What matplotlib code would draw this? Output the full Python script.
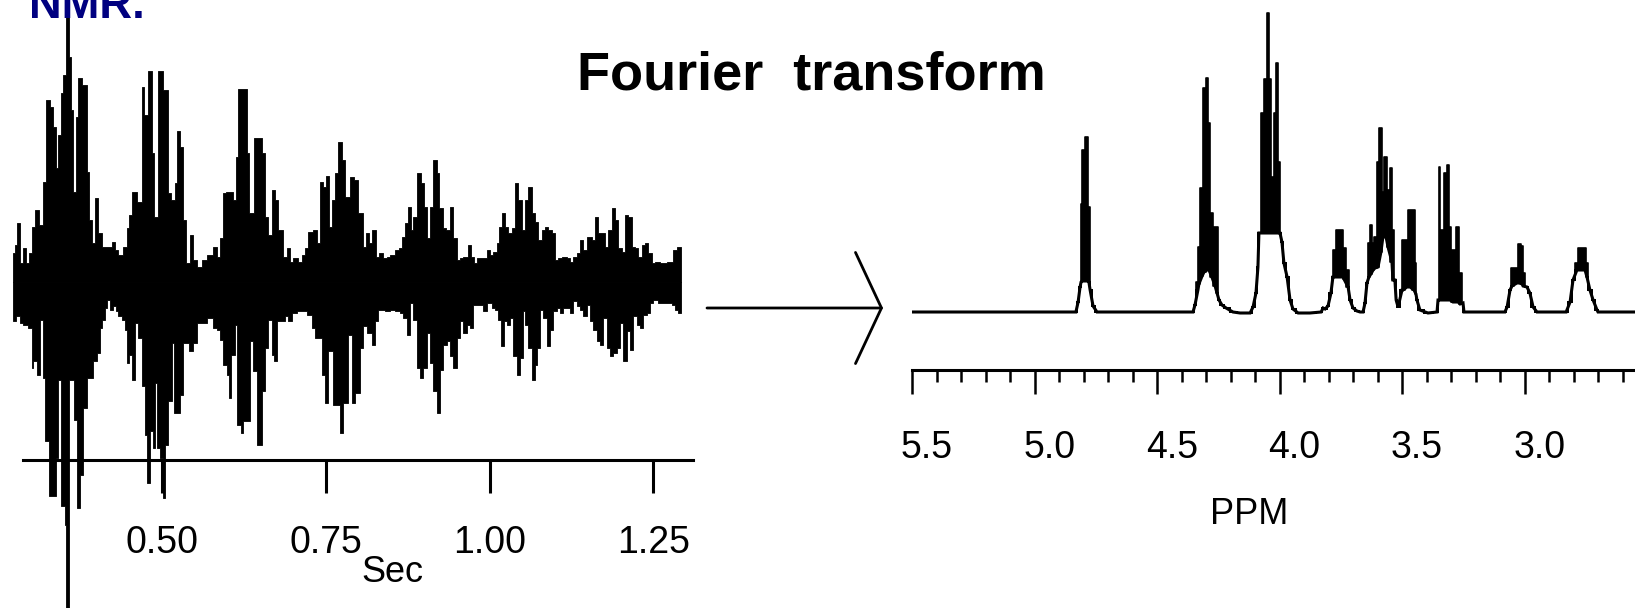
import matplotlib
matplotlib.use("Agg")
import matplotlib.pyplot as plt
from matplotlib.ticker import MultipleLocator
from matplotlib.transforms import ScaledTranslation
from matplotlib.patches import FancyArrowPatch

plt.rcParams['font.family'] = ['Liberation Sans', 'DejaVu Sans']

# FID (free induction decay): upper / lower envelope of the dense trace
# time in sec, amplitude in arbitrary units (0 = trace centre)
fid_up_t = [0.2725, 0.2750, 0.2786, 0.2826, 0.2867, 0.2918, 0.2969, 0.3005, 0.3055, 0.3122,
            0.3183, 0.3218, 0.3285, 0.3335, 0.3376, 0.3412, 0.3447, 0.3488, 0.3530, 0.3572,
            0.3600, 0.3641, 0.3682, 0.3717, 0.3768, 0.3855, 0.3885, 0.3921, 0.3972, 0.4023,
            0.4073, 0.4226, 0.4277, 0.4328, 0.4404, 0.4455, 0.4496, 0.4532, 0.4608, 0.4684,
            0.4720, 0.4786, 0.4837, 0.4873, 0.4939, 0.5005, 0.5091, 0.5127, 0.5193, 0.5229,
            0.5270, 0.5310, 0.5361, 0.5422, 0.5473, 0.5524, 0.5600, 0.5677, 0.5779, 0.5830,
            0.5880, 0.5931, 0.5972, 0.6084, 0.6125, 0.6160, 0.6288, 0.6328, 0.6400, 0.6517,
            0.6568, 0.6618, 0.6669, 0.6720, 0.6771, 0.6837, 0.6898, 0.6949, 0.7000, 0.7077,
            0.7127, 0.7178, 0.7229, 0.7306, 0.7357, 0.7407, 0.7458, 0.7499, 0.7550, 0.7586,
            0.7636, 0.7687, 0.7739, 0.7790, 0.7867, 0.7928, 0.7994, 0.8070, 0.8111, 0.8162,
            0.8198, 0.8264, 0.8315, 0.8366, 0.8427, 0.8478, 0.8554, 0.8620, 0.8656, 0.8707,
            0.8757, 0.8793, 0.8834, 0.8895, 0.8946, 0.8997, 0.9048, 0.9088, 0.9139, 0.9190,
            0.9231, 0.9282, 0.9333, 0.9394, 0.9445, 0.9496, 0.9546, 0.9597, 0.9674, 0.9709,
            0.9760, 0.9801, 0.9893, 0.9954, 1.0005, 1.0055, 1.0106, 1.0147, 1.0183, 1.0234,
            1.0284, 1.0335, 1.0386, 1.0437, 1.0488, 1.0539, 1.0590, 1.0641, 1.0692, 1.0743,
            1.0793, 1.0844, 1.0895, 1.0946, 1.0997, 1.1048, 1.1099, 1.1175, 1.1226, 1.1277,
            1.1328, 1.1379, 1.1430, 1.1481, 1.1557, 1.1608, 1.1659, 1.1761, 1.1812, 1.1863,
            1.1914, 1.1964, 1.2015, 1.2066, 1.2117, 1.2168, 1.2219, 1.2270, 1.2321, 1.2371,
            1.2422, 1.2473, 1.2524, 1.2601, 1.2702, 1.2804, 1.2855]
fid_up = [2.9, 3.7, 5.9, 1.9, 3.4, 1.9, 2.9, 5.5, 7.2, 5.7,
          10.0, 18.2, 17.5, 15.5, 11.4, 14.7, 18.9, 20.7, 35.0, 22.5,
          17.2, 9.0, 16.5, 20.4, 19.7, 11.0, 6.2, 3.9, 8.4, 4.9,
          3.5, 4.0, 3.2, 2.7, 3.5, 5.4, 6.7, 9.0, 8.0, 19.5,
          16.7, 21.1, 12.9, 6.5, 21.1, 19.2, 8.9, 8.2, 9.9, 15.1,
          13.5, 6.2, 1.9, 4.7, 2.2, 1.5, 2.2, 2.7, 3.5, 2.5,
          4.4, 8.9, 9.0, 8.2, 12.5, 19.3, 12.9, 6.9, 14.4, 12.9,
          6.5, 4.7, 9.2, 8.2, 5.2, 2.5, 3.4, 2.0, 2.4, 2.0,
          2.7, 3.4, 5.0, 5.2, 3.9, 10.0, 9.5, 10.6, 5.5, 8.2,
          10.9, 14.0, 12.2, 8.5, 10.5, 10.2, 6.9, 3.5, 4.9, 3.9,
          5.2, 2.5, 2.9, 2.4, 2.5, 2.7, 3.2, 3.4, 4.5, 5.9,
          7.5, 5.2, 6.5, 10.9, 9.9, 7.5, 4.4, 7.5, 12.2, 10.9,
          7.4, 5.4, 5.2, 7.5, 4.4, 2.2, 2.4, 2.5, 3.7, 2.5,
          1.9, 2.4, 2.4, 3.2, 2.7, 3.0, 3.9, 5.5, 6.9, 5.5,
          4.9, 5.4, 9.9, 8.2, 5.2, 8.2, 9.5, 6.9, 6.0, 4.2,
          5.2, 5.5, 5.2, 4.9, 2.2, 2.4, 2.5, 2.4, 2.0, 2.5,
          2.9, 4.2, 3.2, 4.5, 4.2, 6.5, 4.9, 3.5, 5.2, 7.4,
          6.2, 3.4, 3.0, 6.7, 6.5, 3.5, 3.4, 2.5, 3.7, 3.9,
          2.9, 1.9, 2.0, 1.9, 2.0, 3.2, 3.5]

fid_lo_t = [0.2725, 0.2765, 0.2826, 0.2877, 0.2954, 0.3005, 0.3030, 0.3081, 0.3132, 0.3173,
            0.3208, 0.3274, 0.3376, 0.3412, 0.3447, 0.3514, 0.3530, 0.3572, 0.3651, 0.3692,
            0.3743, 0.3794, 0.3855, 0.3946, 0.3997, 0.4048, 0.4073, 0.4124, 0.4160, 0.4201,
            0.4252, 0.4292, 0.4328, 0.4379, 0.4430, 0.4455, 0.4496, 0.4532, 0.4582, 0.4633,
            0.4684, 0.4735, 0.4771, 0.4812, 0.4852, 0.4888, 0.4913, 0.4964, 0.5005, 0.5041,
            0.5081, 0.5142, 0.5178, 0.5270, 0.5310, 0.5412, 0.5473, 0.5524, 0.5677, 0.5779,
            0.5830, 0.5880, 0.5931, 0.5982, 0.6023, 0.6048, 0.6109, 0.6145, 0.6196, 0.6237,
            0.6339, 0.6389, 0.6440, 0.6517, 0.6568, 0.6618, 0.6669, 0.6705, 0.6746, 0.6873,
            0.6924, 0.6975, 0.7051, 0.7204, 0.7280, 0.7331, 0.7433, 0.7484, 0.7535, 0.7601,
            0.7713, 0.7765, 0.7841, 0.7892, 0.7943, 0.8019, 0.8060, 0.8121, 0.8198, 0.8248,
            0.8299, 0.8401, 0.8478, 0.8554, 0.8630, 0.8681, 0.8732, 0.8783, 0.8834, 0.8895,
            0.8936, 0.8987, 0.9048, 0.9088, 0.9139, 0.9190, 0.9241, 0.9292, 0.9343, 0.9394,
            0.9445, 0.9496, 0.9546, 0.9597, 0.9648, 0.9699, 0.9750, 0.9903, 0.9954, 1.0030,
            1.0081, 1.0132, 1.0167, 1.0218, 1.0259, 1.0310, 1.0361, 1.0412, 1.0463, 1.0503,
            1.0539, 1.0590, 1.0641, 1.0692, 1.0727, 1.0768, 1.0819, 1.0870, 1.0921, 1.0972,
            1.1023, 1.1073, 1.1124, 1.1226, 1.1277, 1.1338, 1.1379, 1.1430, 1.1481, 1.1532,
            1.1583, 1.1633, 1.1684, 1.1735, 1.1786, 1.1837, 1.1888, 1.1939, 1.1990, 1.2041,
            1.2092, 1.2143, 1.2193, 1.2244, 1.2295, 1.2346, 1.2397, 1.2448, 1.2499, 1.2575,
            1.2778, 1.2829, 1.2880]
fid_lo = [-3.9, -3.4, -4.1, -4.3, -4.6, -8.6, -7.9, -9.3, -3.8, -9.6,
          -15.9, -21.4, -17.6, -9.8, -22.4, -24.3, -40.0, -9.8, -13.8, -22.6,
          -19.3, -12.6, -9.6, -7.9, -7.1, -4.6, -3.8, -2.6, -1.8, -2.8,
          -2.4, -2.9, -3.4, -3.8, -4.8, -8.1, -7.3, -9.8, -4.1, -5.6,
          -10.4, -15.3, -20.1, -14.9, -16.6, -10.1, -16.6, -17.6, -21.6, -16.3,
          -11.9, -6.1, -13.1, -11.3, -6.1, -6.9, -6.1, -4.1, -3.6, -4.6,
          -4.8, -5.8, -8.3, -9.3, -11.6, -7.3, -4.3, -14.3, -15.1, -13.9,
          -5.9, -8.9, -16.3, -10.9, -6.6, -3.8, -7.3, -7.9, -3.9, -3.4,
          -3.9, -3.1, -2.9, -3.3, -4.6, -5.6, -9.3, -12.1, -6.9, -12.3,
          -15.1, -12.1, -5.3, -12.1, -11.1, -6.6, -4.4, -5.1, -6.3, -3.9,
          -2.8, -2.9, -2.8, -2.9, -3.1, -3.6, -5.3, -2.1, -3.8, -8.6,
          -9.6, -8.6, -5.1, -8.1, -10.9, -13.1, -8.8, -6.3, -5.9, -7.4,
          -8.6, -5.6, -3.9, -5.1, -4.3, -4.6, -2.3, -2.9, -2.1, -2.6,
          -2.8, -3.8, -6.4, -3.9, -4.3, -3.6, -7.4, -9.3, -7.6, -2.9,
          -4.3, -6.6, -9.8, -8.3, -6.6, -2.8, -3.6, -6.4, -4.8, -2.9,
          -2.6, -3.1, -2.6, -3.1, -1.9, -2.4, -2.8, -3.4, -2.3, -3.9,
          -4.8, -5.9, -6.3, -3.6, -6.6, -7.4, -7.1, -6.6, -4.1, -7.9,
          -4.9, -6.8, -3.4, -4.3, -4.6, -3.3, -3.1, -2.1, -1.8, -2.1,
          -2.3, -2.8, -3.1]
fid_end = 1.2916
fid_ticks = [0.50, 0.75, 1.00, 1.25]
fid_labels = ['0.50', '0.75', '1.00', '1.25']

# 1H spectrum: lower trace and top of the unresolved multiplet lines
spec_ppm = [5.500, 4.831, 4.822, 4.814, 4.810, 4.806, 4.798, 4.790, 4.782, 4.778,
            4.773, 4.761, 4.745, 4.353, 4.345, 4.333, 4.329, 4.316, 4.308, 4.296,
            4.288, 4.276, 4.263, 4.255, 4.247, 4.235, 4.218, 4.190, 4.161, 4.120,
            4.108, 4.096, 4.088, 4.084, 4.071, 4.055, 4.043, 4.039, 4.031, 4.018,
            4.010, 4.002, 3.998, 3.990, 3.982, 3.969, 3.957, 3.945, 3.924, 3.876,
            3.830, 3.822, 3.814, 3.802, 3.790, 3.782, 3.778, 3.761, 3.741, 3.737,
            3.720, 3.712, 3.700, 3.684, 3.671, 3.659, 3.651, 3.643, 3.635, 3.627,
            3.618, 3.610, 3.598, 3.586, 3.578, 3.565, 3.557, 3.541, 3.537, 3.529,
            3.524, 3.516, 3.500, 3.496, 3.480, 3.467, 3.451, 3.443, 3.439, 3.427,
            3.394, 3.357, 3.353, 3.349, 3.337, 3.324, 3.312, 3.304, 3.292, 3.271,
            3.263, 3.251, 3.247, 3.080, 3.071, 3.059, 3.051, 3.031, 3.022, 3.010,
            3.006, 2.990, 2.978, 2.965, 2.949, 2.830, 2.814, 2.802, 2.786, 2.778,
            2.753, 2.745, 2.733, 2.720, 2.704, 2.700, 2.549]
spec_low = [0.0, 0.0, 1.0, 2.5, 3.0, 3.1, 3.1, 3.1, 3.1, 3.0,
            2.2, 0.6, 0.0, 0.0, 0.7, 2.2, 2.8, 3.6, 4.0, 4.2,
            4.2, 3.5, 2.6, 1.9, 1.2, 0.7, 0.4, 0.0, -0.1, -0.1,
            0.5, 1.9, 4.5, 7.9, 7.9, 7.9, 7.9, 7.9, 7.9, 7.9,
            7.9, 7.9, 7.9, 7.0, 4.9, 3.5, 1.2, 0.3, -0.1, -0.1,
            0.0, 0.4, 0.3, 0.6, 1.9, 3.5, 3.5, 3.5, 3.5, 3.3,
            2.5, 1.2, 0.4, 0.1, 0.0, 0.0, 0.9, 2.9, 3.5, 3.8,
            4.2, 4.4, 4.5, 6.0, 7.5, 7.5, 6.5, 5.0, 3.2, 3.2,
            1.2, 0.5, 2.2, 2.2, 2.5, 2.5, 2.2, 1.8, 1.2, 0.2,
            -0.1, 0.0, 1.2, 1.2, 1.2, 1.2, 1.2, 1.2, 1.0, 1.0,
            0.8, 0.9, 0.0, 0.0, 0.5, 2.2, 2.6, 2.9, 2.9, 2.8,
            2.6, 2.5, 1.9, 0.5, 0.0, 0.0, 1.0, 3.2, 4.2, 4.2,
            4.2, 3.5, 2.2, 1.2, 0.2, 0.0, 0.0]
spec_high = [0.0, 0.0, 1.0, 2.5, 10.8, 16.2, 16.2, 17.5, 17.5, 10.5,
             2.2, 0.6, 0.0, 0.0, 0.7, 3.0, 6.5, 12.4, 22.4, 23.4,
             18.9, 9.9, 8.5, 8.5, 1.2, 0.7, 0.4, 0.0, -0.1, -0.1,
             0.5, 1.9, 4.5, 7.9, 19.9, 23.3, 29.9, 23.3, 13.5, 19.9,
             24.9, 15.0, 7.9, 7.0, 4.9, 3.5, 1.2, 0.3, -0.1, -0.1,
             0.0, 0.4, 0.3, 0.6, 1.9, 3.5, 6.2, 8.2, 8.2, 6.4,
             4.2, 1.2, 0.4, 0.1, 0.0, 0.0, 0.9, 2.9, 6.9, 8.7,
             6.9, 7.5, 15.0, 18.4, 12.0, 15.5, 12.2, 14.4, 8.2, 3.2,
             1.2, 0.5, 2.2, 7.2, 7.2, 10.2, 10.2, 4.9, 1.2, 0.2,
             -0.1, 0.0, 1.2, 14.5, 8.2, 13.9, 14.7, 8.5, 6.2, 8.5,
             3.9, 0.9, 0.0, 0.0, 0.5, 2.2, 4.4, 4.4, 6.8, 6.6,
             3.9, 2.5, 1.9, 0.5, 0.0, 0.0, 1.0, 3.2, 4.9, 6.4,
             6.4, 4.9, 2.2, 1.2, 0.2, 0.0, 0.0]
ppm_ticks = [5.5, 5.0, 4.5, 4.0, 3.5, 3.0]
ppm_labels = ['5.5', '5.0', '4.5', '4.0', '3.5', '3.0']

W, H = 1635, 608
fig = plt.figure(figsize=(W / 100, H / 100), dpi=100)

# ---- left: FID ----
ax1 = fig.add_axes([0, 0, 700 / W, 1])
ax1.set_xlim(0.2521, 1.3212)
ax1.set_ylim(-32.6, 28.2)
ax1.fill_between(fid_up_t + [fid_end], 0, fid_up + [fid_up[-1]], step='post',
                 color='black', lw=0.6)
ax1.fill_between(fid_lo_t + [fid_end], fid_lo + [fid_lo[-1]], 0, step='post',
                 color='black', lw=0.6)
for s in ['left', 'right', 'top']:
    ax1.spines[s].set_visible(False)
ax1.spines['bottom'].set_position(('data', -17.8))
ax1.spines['bottom'].set_bounds(0.2873, 1.3105)
ax1.spines['bottom'].set_linewidth(2.2)
ax1.set_yticks([])
ax1.set_xticks(fid_ticks, labels=fid_labels)
ax1.tick_params(axis='x', direction='out', length=24, width=2.2, labelsize=27, pad=23)
ax1.set_xlabel('Sec', fontsize=26)
ax1.xaxis.set_label_coords(392 / 700, 1 - 572 / H)
ax1.xaxis.label.set_va('center')
ax1.patch.set_visible(False)

# ---- right: spectrum ----
ax2 = fig.add_axes([912 / W, 0, (W - 912) / W, 1])
ax2.set_xlim(5.5, 2.549)
ax2.set_ylim(-29.6, 31.2)
ax2.fill_between(spec_ppm, spec_low, spec_high, step='mid', color='black', lw=1.2)
ax2.plot(spec_ppm, spec_low, color='black', lw=2.2, solid_joinstyle='miter')
for s in ['left', 'right', 'top']:
    ax2.spines[s].set_visible(False)
ax2.spines['bottom'].set_position(('data', -5.8))
ax2.spines['bottom'].set_linewidth(2.2)
ax2.set_yticks([])
ax2.set_xticks(ppm_ticks, labels=ppm_labels)
ax2.xaxis.set_minor_locator(MultipleLocator(0.1))
ax2.tick_params(axis='x', which='major', direction='out', length=17, width=1.8,
                labelsize=27, pad=26)
ax2.tick_params(axis='x', which='minor', direction='out', length=8.5, width=1.8)
shift = ScaledTranslation(0.15, 0, fig.dpi_scale_trans)
for lab in ax2.get_xticklabels():
    lab.set_transform(lab.get_transform() + shift)
ax2.set_xlabel('PPM', fontsize=26)
ax2.xaxis.set_label_coords((1249 - 912) / (W - 912), 1 - 515 / H)
ax2.xaxis.label.set_va('center')
ax2.patch.set_visible(False)

# ---- arrow and texts ----
arrow = FancyArrowPatch((707 / W, 1 - 308 / H), (883 / W, 1 - 308 / H),
                        transform=fig.transFigure,
                        arrowstyle='->,head_length=18.7,head_width=40',
                        mutation_scale=1, lw=2, color='black',
                        shrinkA=0, shrinkB=0)
fig.add_artist(arrow)

fig.text(811 / W, 1 - 89.5 / H, 'Fourier  transform', fontsize=39, fontweight='bold',
         ha='center', va='baseline')
# only the lower part of this heading is inside the picture, as in the original
fig.text(29 / W, 1 - 18.5 / H, 'NMR.', fontsize=32.7, fontweight='bold',
         color='#000080', ha='left', va='baseline')

fig.savefig('out.png', dpi=100)
